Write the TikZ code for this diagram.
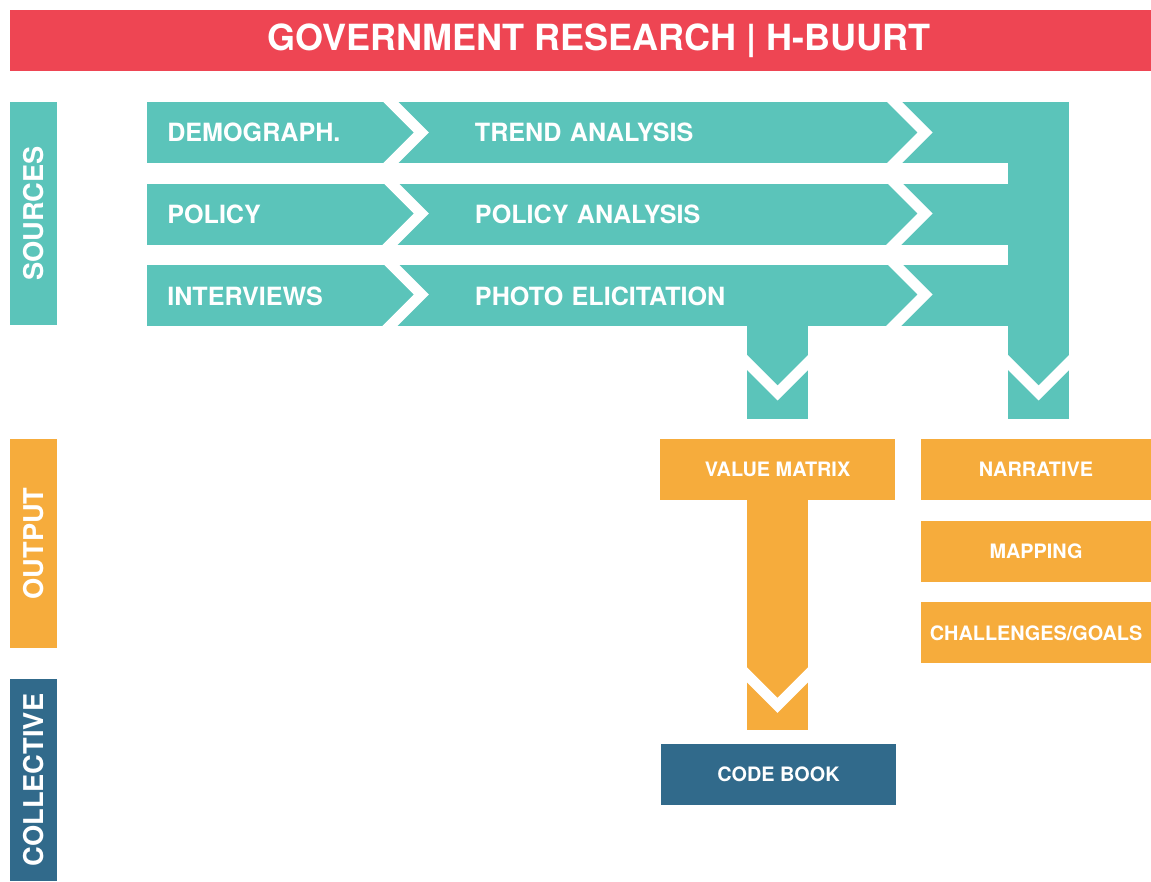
\documentclass[tikz,border=0pt]{standalone}
\usepackage{fontspec}
\setmainfont{TeX Gyre Heros}
\usepackage{tikz}
\usetikzlibrary{positioning}
\definecolor{titlered}{HTML}{EE4553}
\definecolor{srcteal}{HTML}{5BC4BA}
\definecolor{outorange}{HTML}{F6AC3C}
\definecolor{colblue}{HTML}{316A8B}
\tikzstyle{titlebar} = [rectangle, fill=titlered, minimum width=22.82cm, minimum height=1.22cm]
\tikzstyle{titletext} = [text=white, font=\bfseries\fontsize{20.5}{24}\selectfont]
\tikzstyle{sidetag} = [
    rectangle, rotate=90, minimum height=0.94cm, inner sep=0pt, text depth=0pt,
    text=white, font=\bfseries\fontsize{15.5}{18}\selectfont]
\tikzstyle{srcrow} = [
    rectangle, fill=srcteal, anchor=west, minimum height=1.22cm, text depth=0pt,
    inner xsep=0.4cm, text width=4.22cm, align=left,
    text=white, font=\bfseries\fontsize{14.3}{17}\selectfont]
\tikzstyle{anarow} = [
    srcrow, inner xsep=0pt, text width=12.84cm, execute at begin node=\hspace*{1.72cm}]
\tikzstyle{outbox} = [
    rectangle, fill=outorange, minimum width=4.7cm, minimum height=1.22cm, text depth=0pt,
    inner sep=0pt, text=white, font=\bfseries\fontsize{11.3}{13}\selectfont]
\tikzstyle{tealflow} = [srcteal, line width=1.22cm]
\tikzstyle{orangeflow} = [outorange, line width=1.22cm]
\tikzstyle{notch} = [white, line width=0.212cm, miter limit=10]

\begin{document}
\begin{tikzpicture}[x=0.02cm, y=-0.02cm]
\useasboundingbox (0,0) rectangle (1151,881);

\node (title) [titlebar] at (580.5,40.5) {};
\node (titlelabel) [titletext] at ([xshift=0.37cm]title.center) {GOVERNMENT RESEARCH | H-BUURT};

% side tags
\node (sources) [sidetag, fill=srcteal, minimum width=4.46cm] at (33.5,213.5) {SOURCES};
\node (output) [sidetag, fill=outorange, minimum width=4.18cm] at (33.5,543.5) {OUTPUT};
\node (collective) [sidetag, fill=colblue, minimum width=4.04cm] at (33.5,780) {COLLECTIVE};

% source rows
\node (demograph) [srcrow] at (147,132.5) {DEMOGRAPH.};
\node (policy) [srcrow, below=0.4cm of demograph] {POLICY};
\node (interviews) [srcrow, below=0.4cm of policy] {INTERVIEWS};

\node (trend) [anarow, right=-0.2cm of demograph] {TREND ANALYSIS};
\node (policyan) [anarow, right=-0.2cm of policy] {POLICY ANALYSIS};
\node (photo) [anarow, right=-0.2cm of interviews] {PHOTO ELICITATION};

% outputs
\node (valuematrix) [outbox] at (777.5,469.5) {VALUE MATRIX};
\node (narrative) [outbox, minimum width=4.6cm] at (1036,469.5) {NARRATIVE};
\node (mapping) [outbox, minimum width=4.6cm, below=0.4cm of narrative] {MAPPING};
\node (goals) [outbox, minimum width=4.6cm, below=0.4cm of mapping] {CHALLENGES/GOALS};

\node (codebook) [outbox, fill=colblue] at (778.5,774.5) {CODE BOOK};

% flows
\coordinate (merge) at (1038.5,102);
\draw [tealflow] (merge) -- ([yshift=0.4cm]merge |- narrative.north);
\draw [tealflow] ([yshift=0.06cm]valuematrix.north |- photo.south) -- ([yshift=0.4cm]valuematrix.north);
\draw [orangeflow] ([yshift=0.06cm]valuematrix.south) -- ([yshift=0.28cm]valuematrix.south |- codebook.north);

% chevrons
\foreach \y in {132.5,213.5,294.5} {
    \draw [notch] (382.8,\y-38.5) -- (421.3,\y) -- (382.8,\y+38.5);
    \draw [notch] (886.5,\y-38.5) -- (925,\y) -- (886.5,\y+38.5);
}
\foreach \x in {777.5,1038.5}
    \draw [notch] (\x-40.5,352.5) -- (\x,393) -- (\x+40.5,352.5);
\draw [notch] (737,664.8) -- (777.5,705.3) -- (818,664.8);
\end{tikzpicture}
\end{document}
